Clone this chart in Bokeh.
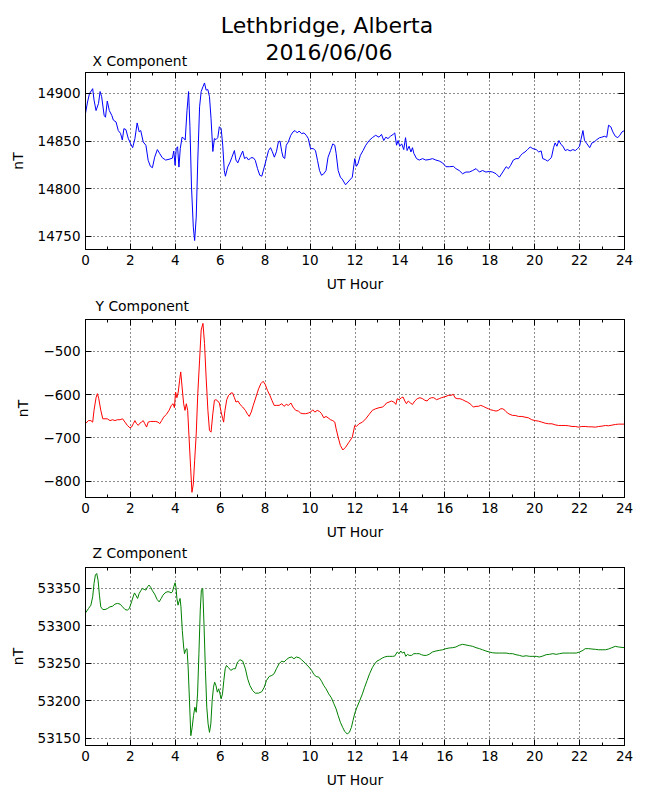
from bokeh.plotting import figure
from bokeh.models import Range1d, FixedTicker, LinearAxis
from bokeh.layouts import column
from bokeh.core.properties import value
from bokeh.embed import file_html
from bokeh.resources import INLINE

# ---------------- data ----------------
x_hours = [0.0, 0.09, 0.18, 0.28, 0.32, 0.38, 0.47, 0.58, 0.65, 0.72, 0.83, 0.89, 0.97, 1.06, 1.17,
           1.24, 1.36, 1.46, 1.56, 1.64, 1.71, 1.80, 1.90, 2.01, 2.10, 2.20, 2.30, 2.39, 2.46, 2.57,
           2.69, 2.79, 2.89, 2.98, 3.08, 3.20, 3.31, 3.42, 3.57, 3.72, 3.87, 3.93, 3.99, 4.04, 4.10,
           4.16, 4.22, 4.30, 4.37, 4.44, 4.52, 4.59, 4.65, 4.72, 4.80, 4.86, 4.93, 5.00, 5.08, 5.15,
           5.23, 5.30, 5.37, 5.45, 5.52, 5.59, 5.67, 5.74, 5.81, 5.89, 5.96, 6.04, 6.11, 6.18, 6.23,
           6.33, 6.44, 6.52, 6.63, 6.70, 6.78, 6.88, 7.00, 7.08, 7.17, 7.26, 7.36, 7.47, 7.56, 7.66,
           7.76, 7.85, 7.96, 8.06, 8.15, 8.24, 8.32, 8.41, 8.50, 8.59, 8.66, 8.74, 8.80, 8.87, 8.94,
           9.03, 9.14, 9.24, 9.33, 9.43, 9.51, 9.62, 9.73, 9.83, 9.92, 10.02, 10.14, 10.24, 10.33,
           10.42, 10.51, 10.61, 10.71, 10.80, 10.91, 11.01, 11.10, 11.16, 11.25, 11.35, 11.43, 11.58,
           11.73, 11.88, 11.99, 12.06, 12.13, 12.24, 12.36, 12.48, 12.63, 12.77, 12.92, 13.07, 13.18,
           13.28, 13.37, 13.47, 13.58, 13.70, 13.77, 13.85, 13.92, 13.99, 14.08, 14.17, 14.25, 14.32,
           14.41, 14.49, 14.56, 14.62, 14.74, 14.86, 15.01, 15.15, 15.30, 15.45, 15.60, 15.75, 15.90,
           16.05, 16.20, 16.38, 16.49, 16.64, 16.79, 16.94, 17.09, 17.24, 17.39, 17.54, 17.68, 17.83,
           17.98, 18.13, 18.28, 18.43, 18.58, 18.73, 18.83, 18.93, 19.05, 19.17, 19.28, 19.38, 19.47,
           19.57, 19.68, 19.80, 19.92, 20.07, 20.18, 20.29, 20.36, 20.47, 20.57, 20.66, 20.75, 20.84,
           20.91, 20.99, 21.08, 21.17, 21.26, 21.36, 21.46, 21.58, 21.70, 21.81, 21.91, 22.00, 22.06,
           22.15, 22.22, 22.33, 22.45, 22.55, 22.65, 22.77, 22.89, 22.99, 23.10, 23.21, 23.29, 23.39,
           23.48, 23.59, 23.70, 23.79, 23.89, 24.0]
x_values = [14879, 14891, 14900, 14903.5, 14905, 14893, 14882, 14889.5, 14902, 14896.5, 14877, 14875,
            14892, 14882, 14877, 14872, 14870, 14861, 14858, 14851, 14863, 14862, 14853, 14847, 14843,
            14852.5, 14869, 14859.6, 14861, 14849, 14845.5, 14829.7, 14823.4, 14822, 14833, 14841,
            14836.6, 14832.4, 14830, 14830.8, 14832, 14839.5, 14824.5, 14842, 14844, 14822.6, 14842,
            14854, 14853, 14851, 14882, 14902, 14865, 14801.6, 14759.5, 14745.4, 14770, 14830, 14886,
            14902, 14907, 14911, 14903.5, 14904, 14896.5, 14873.6, 14839, 14852.6, 14851.5, 14853.5,
            14865, 14863, 14845.6, 14819, 14813, 14822.6, 14828, 14833, 14840, 14830, 14827, 14833,
            14839.5, 14831.6, 14833, 14830, 14832.4, 14832.4, 14829.7, 14821, 14814, 14813, 14822.6,
            14831.6, 14840, 14843, 14838.7, 14833, 14838.7, 14849, 14850, 14838.7, 14833, 14831.6,
            14845.6, 14849, 14856, 14859.6, 14861, 14858.5, 14860.5, 14857.8, 14858.5, 14856, 14852.6,
            14842, 14842, 14840, 14829.7, 14819, 14814, 14815.6, 14819, 14833, 14840, 14847, 14845.6,
            14837, 14819, 14812, 14810, 14804, 14808, 14812, 14831.5, 14823.4, 14826, 14835, 14840,
            14845.6, 14850.5, 14853.5, 14856, 14854, 14857, 14850.5, 14854, 14852.6, 14855, 14857,
            14858.5, 14845.6, 14850.5, 14844.5, 14847, 14841, 14853.5, 14840, 14844.5, 14838.5, 14843,
            14837, 14831.5, 14830, 14831.5, 14830, 14830.5, 14831.5, 14830, 14829, 14827, 14823, 14823,
            14823.4, 14821, 14819, 14815.6, 14817.4, 14817.4, 14819, 14821, 14817.4, 14819, 14817.4,
            14818, 14817.4, 14815.6, 14812, 14817.4, 14823, 14821, 14824.5, 14830, 14831.5, 14831.5,
            14835, 14837, 14838.5, 14841, 14843.7, 14842, 14841, 14838.5, 14839.6, 14831.5, 14830.5,
            14829, 14830.5, 14833, 14843, 14848, 14844.5, 14850.5, 14846.4, 14844.5, 14840, 14841,
            14839.6, 14841, 14840, 14842, 14844.5, 14851.5, 14861, 14850.5, 14847, 14843, 14848, 14849,
            14851.5, 14853.5, 14854, 14855, 14854, 14866.6, 14865, 14859.6, 14855, 14853.5, 14856,
            14859.6, 14861]

y_hours = [0.0, 0.13, 0.24, 0.32, 0.38, 0.47, 0.53, 0.59, 0.68, 0.77, 0.87, 0.97, 1.09, 1.21, 1.31,
           1.42, 1.54, 1.65, 1.76, 1.86, 1.98, 2.05, 2.13, 2.20, 2.27, 2.35, 2.42, 2.49, 2.57, 2.64,
           2.72, 2.79, 2.89, 3.01, 3.13, 3.23, 3.31, 3.39, 3.48, 3.60, 3.72, 3.82, 3.90, 3.96, 4.01,
           4.07, 4.13, 4.19, 4.24, 4.30, 4.37, 4.43, 4.49, 4.55, 4.61, 4.68, 4.74, 4.80, 4.86, 4.93,
           5.00, 5.08, 5.15, 5.23, 5.30, 5.37, 5.45, 5.52, 5.59, 5.67, 5.74, 5.81, 5.89, 5.96, 6.04,
           6.11, 6.15, 6.21, 6.29, 6.37, 6.48, 6.55, 6.63, 6.70, 6.79, 6.88, 7.00, 7.12, 7.22, 7.29,
           7.38, 7.47, 7.59, 7.71, 7.81, 7.91, 8.00, 8.10, 8.21, 8.30, 8.40, 8.50, 8.62, 8.74, 8.84,
           8.94, 9.03, 9.15, 9.24, 9.36, 9.48, 9.58, 9.68, 9.80, 9.92, 10.02, 10.12, 10.21, 10.32,
           10.42, 10.51, 10.61, 10.71, 10.80, 10.91, 11.01, 11.10, 11.16, 11.25, 11.35, 11.46, 11.58,
           11.73, 11.88, 11.99, 12.06, 12.18, 12.33, 12.48, 12.63, 12.77, 12.92, 13.07, 13.22, 13.32,
           13.40, 13.52, 13.62, 13.73, 13.82, 13.88, 13.96, 14.07, 14.14, 14.22, 14.29, 14.37, 14.47,
           14.56, 14.66, 14.77, 14.89, 15.01, 15.11, 15.21, 15.30, 15.41, 15.51, 15.63, 15.75, 15.85,
           15.96, 16.05, 16.15, 16.27, 16.38, 16.45, 16.55, 16.67, 16.79, 16.90, 17.00, 17.12, 17.20,
           17.27, 17.39, 17.49, 17.60, 17.71, 17.83, 17.94, 18.04, 18.16, 18.28, 18.38, 18.49, 18.58,
           18.68, 18.79, 18.90, 19.02, 19.13, 19.28, 19.43, 19.57, 19.72, 19.87, 20.02, 20.17, 20.32,
           20.47, 20.62, 20.77, 20.91, 21.06, 21.21, 21.36, 21.51, 21.66, 21.81, 21.96, 22.10, 22.25,
           22.40, 22.55, 22.70, 22.85, 23.00, 23.15, 23.29, 23.44, 23.59, 23.74, 24.0]
y_values = [-667, -660, -660, -663.6, -636, -607, -597.7, -609, -636, -655.8, -655.8, -655.8, -660,
            -658, -660, -658, -658, -655.8, -663.6, -671, -676.7, -675, -667, -660, -667, -671, -666,
            -663.6, -660, -667, -675, -663.6, -662, -662, -662, -663.6, -667, -660, -652, -645.7,
            -636.4, -624.8, -621, -630, -593.8, -607, -593.8, -566.7, -547.3, -582, -621, -636.4,
            -621, -636.4, -698.4, -768, -826, -807, -752.7, -690.7, -597.7, -520, -450.4, -435,
            -481.4, -559, -636.4, -683, -686.8, -644, -613, -611.6, -614.7, -619.4, -640.3, -655.8,
            -663.6, -636.4, -611.6, -601.6, -596, -596, -607, -617, -614.7, -622.5, -628.7, -636.4,
            -645.7, -650.4, -640.3, -624.8, -605.4, -586, -574.4, -569, -576, -590, -601.6, -613,
            -624.8, -624.8, -624.8, -621, -627, -622.5, -624.8, -619.4, -628.7, -636.4, -638, -642.6,
            -644, -644, -642.6, -640.3, -635, -640.3, -636.4, -638.8, -644, -653.5, -650.4, -653.5,
            -658, -660, -663.6, -679, -698.4, -717.8, -728, -721.7, -710, -698.4, -671.3, -673.6,
            -667.4, -663.6, -655.8, -645.7, -636.4, -632.6, -630.2, -628.7, -624.8, -619.4, -617,
            -614.7, -617, -622.5, -609.3, -611.6, -607, -605.4, -614.7, -621, -614.7, -619.4, -622.5,
            -614.7, -609.3, -607, -609.3, -613, -614.7, -609.3, -607, -607, -611.6, -609.3, -607,
            -605.4, -604, -601.6, -601.6, -599.2, -607, -609.3, -609.3, -611.6, -614.7, -617, -621,
            -624.8, -628.7, -627, -627, -624.8, -627, -630.2, -632.6, -635, -636.4, -638, -636.4,
            -632.6, -632.6, -636.4, -642.6, -645.7, -648, -648, -650.4, -650.4, -652, -653.5, -658,
            -660, -661.2, -663.6, -666, -667.4, -667.4, -669.8, -671.3, -671.3, -671.3, -672, -673.6,
            -673.6, -675.2, -673.6, -673.6, -674.4, -674.4, -675.2, -673.6, -672.8, -671.3, -672,
            -670.5, -669, -668.2, -668.2]

z_hours = [0.0, 0.13, 0.24, 0.32, 0.38, 0.44, 0.50, 0.56, 0.62, 0.68, 0.77, 0.87, 0.97, 1.09, 1.21,
           1.31, 1.42, 1.54, 1.65, 1.76, 1.86, 1.95, 2.05, 2.13, 2.18, 2.24, 2.32, 2.39, 2.46, 2.54,
           2.61, 2.69, 2.76, 2.83, 2.91, 2.98, 3.08, 3.19, 3.28, 3.37, 3.45, 3.54, 3.63, 3.72, 3.81,
           3.87, 3.93, 3.99, 4.03, 4.07, 4.12, 4.16, 4.21, 4.25, 4.31, 4.37, 4.41, 4.46, 4.52, 4.57,
           4.63, 4.69, 4.75, 4.81, 4.87, 4.93, 4.99, 5.05, 5.11, 5.16, 5.22, 5.28, 5.34, 5.40, 5.46,
           5.52, 5.58, 5.64, 5.70, 5.75, 5.81, 5.87, 5.93, 5.99, 6.04, 6.10, 6.16, 6.22, 6.28, 6.37,
           6.47, 6.58, 6.67, 6.77, 6.88, 7.00, 7.12, 7.22, 7.32, 7.44, 7.56, 7.71, 7.85, 7.96, 8.06,
           8.18, 8.30, 8.40, 8.50, 8.62, 8.74, 8.84, 8.94, 9.06, 9.18, 9.28, 9.39, 9.51, 9.62, 9.73,
           9.83, 9.95, 10.07, 10.17, 10.27, 10.39, 10.51, 10.61, 10.71, 10.83, 10.95, 11.05, 11.16,
           11.25, 11.35, 11.45, 11.54, 11.65, 11.75, 11.84, 11.91, 11.99, 12.09, 12.21, 12.33, 12.43,
           12.54, 12.65, 12.77, 12.88, 12.98, 13.10, 13.22, 13.32, 13.43, 13.55, 13.67, 13.77, 13.88,
           13.96, 14.04, 14.11, 14.19, 14.26, 14.34, 14.41, 14.52, 14.62, 14.74, 14.86, 14.96, 15.07,
           15.18, 15.30, 15.45, 15.60, 15.75, 15.90, 16.05, 16.20, 16.35, 16.49, 16.64, 16.79, 16.94,
           17.09, 17.24, 17.39, 17.54, 17.68, 17.83, 17.98, 18.13, 18.28, 18.43, 18.58, 18.73, 18.88,
           19.02, 19.17, 19.32, 19.47, 19.62, 19.77, 19.92, 20.07, 20.21, 20.36, 20.51, 20.66, 20.81,
           20.96, 21.11, 21.26, 21.40, 21.55, 21.70, 21.85, 22.00, 22.15, 22.25, 22.40, 22.55, 22.70,
           22.85, 23.00, 23.15, 23.29, 23.44, 23.59, 23.74, 24.0]
z_values = [53317.3, 53323, 53327.6, 53338.8, 53356.7, 53367.9, 53370, 53361, 53341, 53325.4, 53321.8,
            53321.8, 53323, 53325.4, 53326.3, 53329, 53330, 53329, 53325.4, 53321.8, 53321, 53323,
            53332, 53339.7, 53344, 53341, 53336.6, 53343.3, 53346.9, 53350, 53348.7, 53347.8, 53352.2,
            53354.5, 53351.3, 53346.9, 53342.4, 53335.2, 53332, 53336.6, 53341, 53344, 53345.5, 53345.5,
            53344, 53345.5, 53352.2, 53357.6, 53351.3, 53336.6, 53327.6, 53332, 53336.6, 53325.4, 53294,
            53271.7, 53262.8, 53268, 53269.5, 53244.9, 53200, 53153.1, 53164.3, 53180, 53191.2, 53184.4,
            53209, 53262.8, 53321, 53347.8, 53350, 53298.5, 53240.4, 53191.2, 53168.8, 53157.6, 53168.8,
            53200, 53218, 53224.7, 53220.2, 53211.3, 53215.8, 53209, 53202.4, 53209, 53227, 53242.6,
            53247, 53244, 53240.4, 53242.6, 53242.6, 53251.6, 53254.7, 53252.9, 53242.6, 53229.2,
            53220.2, 53213.5, 53210, 53210, 53212, 53218, 53227, 53232.3, 53233.7, 53236, 53242.6,
            53249.3, 53252.9, 53251.6, 53254.7, 53257.4, 53258.3, 53256, 53258.3, 53257.4, 53254.7,
            53251.6, 53248.4, 53244.9, 53240.4, 53235, 53232.3, 53231.4, 53226, 53220.2, 53215.8, 53209,
            53203.7, 53196.5, 53188.9, 53180, 53171, 53164.3, 53159, 53155.4, 53157.6, 53164.3, 53173.3,
            53183.1, 53191.2, 53200, 53209, 53218, 53227, 53236, 53244, 53249.3, 53252.9, 53254.7, 53257,
            53258.3, 53259.2, 53259.2, 53259.2, 53259.6, 53265, 53262.8, 53266.3, 53263.6, 53265, 53259.2,
            53261.9, 53260.5, 53260.5, 53262.8, 53262.8, 53262.8, 53261.4, 53260.5, 53260.5, 53261.9,
            53265, 53266.3, 53267.2, 53268, 53269.5, 53270.4, 53270.8, 53271.7, 53274, 53275.3, 53274.4,
            53273.5, 53272.6, 53270.8, 53269.5, 53268, 53266.3, 53265, 53264, 53263.6, 53263.6, 53263.6,
            53263.6, 53262.8, 53262.8, 53261.4, 53260.5, 53259.2, 53260, 53259.2, 53259.2, 53259.2,
            53258.3, 53259.6, 53261.4, 53261.9, 53262.8, 53261.9, 53262.8, 53263.6, 53263.6, 53263.6,
            53263.6, 53263.6, 53265, 53267.2, 53269.5, 53269.5, 53269, 53268.6, 53268, 53268, 53268,
            53269, 53270.8, 53272.6, 53271.7, 53270.8]

x_ticks = [0, 2, 4, 6, 8, 10, 12, 14, 16, 18, 20, 22, 24]
x_minor_ticks = [1, 3, 5, 7, 9, 11, 13, 15, 17, 19, 21, 23]
x_yticks = [14750, 14800, 14850, 14900]
y_yticks = [-800, -700, -600, -500]
y_ytick_labels = ["\u2212800", "\u2212700", "\u2212600", "\u2212500"]
z_yticks = [53150, 53200, 53250, 53300, 53350]

title_lines = ["Lethbridge, Alberta", "2016/06/06"]
panel_titles = ["X Component", "Y Component", "Z Component"]
x_axis_label = "UT Hour"
y_axis_label = "nT"

FONT = "DejaVu Sans"
W = 650
LEFT, RIGHT = 85, 26


def style_axis(ax, labels=True):
    ax.axis_line_color = "black"
    ax.axis_line_width = 1
    ax.major_tick_in = 6
    ax.major_tick_out = 0
    ax.minor_tick_in = 3
    ax.minor_tick_out = 0
    ax.major_tick_line_color = "black"
    ax.minor_tick_line_color = "black"
    ax.major_label_text_font = FONT
    ax.axis_label_text_font = FONT
    ax.axis_label_text_font_style = "normal"
    ax.axis_label_text_font_size = "13.9px"
    ax.axis_label_text_color = "black"
    if labels:
        ax.major_label_text_color = "black"
        ax.major_label_text_font_size = "13.5px"
        ax.major_label_standoff = 5
        ax.axis_label_standoff = 8
    else:
        ax.major_label_text_color = None
        ax.major_label_text_alpha = 0
        ax.major_label_text_font_size = "1px"
        ax.major_label_standoff = 0


def make_header(height, items):
    # a text strip whose frame lines up with the panels' frames below it
    h = figure(width=W, height=height, x_range=Range1d(0, W - LEFT - RIGHT), y_range=Range1d(height, 0),
               x_axis_location=None, y_axis_location=None, output_backend="svg", title=None,
               toolbar_location=None, min_border_left=LEFT, min_border_right=RIGHT,
               min_border_top=0, min_border_bottom=0)
    h.grid.visible = False
    h.outline_line_color = None
    h.background_fill_color = "white"
    h.border_fill_color = "white"
    for txt, px, baseline, size, align in items:
        shift = 0.42 * size  # the text glyph sits this much lower than the given y
        h.text(x=[px - LEFT], y=[baseline - shift], text=[txt], text_font=value(FONT),
               text_font_size=f"{size}px", text_align=align, text_baseline="alphabetic",
               text_color="black")
    return h


def make_panel(hours, vals, color, yr, yticks, ylabels, height, bottom):
    p = figure(width=W, height=height, x_range=Range1d(0, 24), y_range=Range1d(*yr),
               output_backend="svg", toolbar_location=None, title=None,
               min_border_left=LEFT, min_border_right=RIGHT,
               min_border_top=0, min_border_bottom=bottom)
    p.line(hours, vals, line_color=color, line_width=1)

    xt = FixedTicker(ticks=x_ticks, minor_ticks=x_minor_ticks)
    yt = FixedTicker(ticks=yticks)

    top_ax = LinearAxis(ticker=xt)
    right_ax = LinearAxis(ticker=yt)
    style_axis(top_ax, labels=False)
    style_axis(right_ax, labels=False)
    p.add_layout(top_ax, "above")
    p.add_layout(right_ax, "right")

    bx = p.below[0]
    ly = p.left[0]
    bx.ticker = xt
    ly.ticker = yt
    style_axis(bx)
    style_axis(ly)
    ly.axis_label_standoff = 9
    bx.axis_label = x_axis_label
    ly.axis_label = y_axis_label
    if ylabels is not None:
        ly.major_label_overrides = {t: s for t, s in zip(yticks, ylabels)}

    p.xgrid.ticker = xt
    p.ygrid.ticker = yt
    p.grid.grid_line_color = "black"
    p.grid.grid_line_width = 1
    p.grid.grid_line_alpha = 0.9
    p.grid.grid_line_dash = "1 3"

    p.outline_line_color = "black"
    p.outline_line_width = 1
    p.outline_line_alpha = 1
    p.background_fill_color = "white"
    p.border_fill_color = "white"
    return p


h1 = make_header(72, [(title_lines[0], 326.5, 34.3, 22, "center"),
                      (title_lines[1], 328.5, 61, 22, "center"),
                      (panel_titles[0], 92, 66, 13.9, "left")])
p1 = make_panel(x_hours, x_values, "#0000ff", (14736, 14922), x_yticks, None, 225, 48)
h2 = make_header(22, [(panel_titles[1], 95, 14.7, 13.9, "left")])
p2 = make_panel(y_hours, y_values, "#ff0000", (-838, -426), y_yticks, y_ytick_labels, 226, 48)
h3 = make_header(22, [(panel_titles[2], 92, 13.8, 13.9, "left")])
p3 = make_panel(z_hours, z_values, "#008000", (53140, 53378), z_yticks, None, 233, 55)

layout = column(h1, p1, h2, p2, h3, p3, spacing=0)
open("out.html", "w").write(file_html(layout, INLINE))
